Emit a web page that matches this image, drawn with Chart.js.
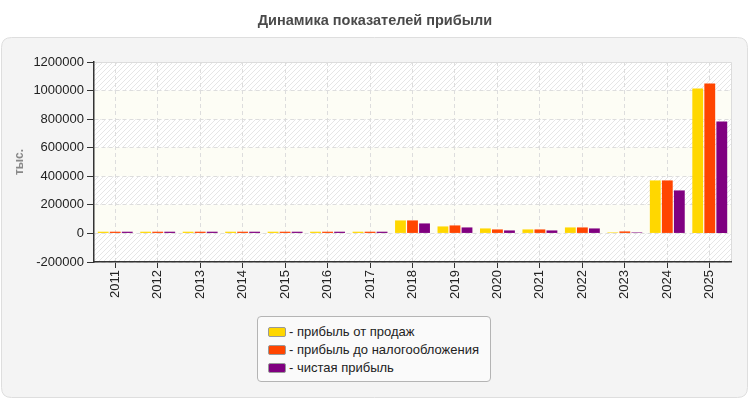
<!DOCTYPE html>
<html>
<head>
<meta charset="utf-8">
<script src="https://cdn.jsdelivr.net/npm/chart.js@4.4.0/dist/chart.umd.min.js"></script>
<style>
  html, body { margin: 0; padding: 0; background: #ffffff; }
  #wrap { position: relative; width: 750px; height: 400px; }
  canvas { position: absolute; left: 0; top: 0; }
  #legend {
    position: absolute; left: 257px; top: 316px; width: 232px; height: 64px;
    background: #fafafa; border: 1px solid #b4b4b4; border-radius: 4px;
    font-family: "Liberation Sans", Arial, sans-serif; font-size: 13px; color: #222;
    box-sizing: content-box;
  }
  #legend .item { position: absolute; left: 10px; height: 18px; line-height: 18px; white-space: nowrap; }
  #legend .sw { display: inline-block; width: 16px; height: 8px; border: 1px solid #999; border-radius: 2px; vertical-align: middle; margin-right: 3px; position: relative; top: -1px; }
</style>
</head>
<body>
<div id="wrap">
  <canvas id="c" width="750" height="400"></canvas>
  <div id="legend"></div>
</div>
<script>
const categories = ["2011","2012","2013","2014","2015","2016","2017","2018","2019","2020","2021","2022","2023","2024","2025"];
const salesProfit = [12000, 12000, 12000, 12000, 12000, 12000, 12000, 91000, 49000, 35000, 28000, 42000, 7000, 371000, 1015000];
const preTaxProfit = [12000, 12000, 12000, 12000, 12000, 12000, 12000, 91000, 56000, 28000, 28000, 42000, 14000, 371000, 1050000];
const netProfit = [12000, 12000, 12000, 12000, 12000, 12000, 12000, 70000, 42000, 21000, 21000, 35000, 7000, 301000, 784000];
const seriesLabels = ["- прибыль от продаж", "- прибыль до налогообложения", "- чистая прибыль"];
const seriesColors = ["#FFD700", "#FF4500", "#800080"];
const chartTitle = "Динамика показателей прибыли";
const yAxisTitle = "тыс.";
const yMin = -200000, yMax = 1200000, yStep = 200000;

const FONT = '"Liberation Sans", Arial, sans-serif';

function makeHatch(ctx) {
  const p = document.createElement('canvas');
  p.width = 5; p.height = 5;
  const g = p.getContext('2d');
  g.fillStyle = '#ffffff';
  g.fillRect(0, 0, 5, 5);
  g.strokeStyle = '#e6e6e6';
  g.lineWidth = 1;
  g.beginPath();
  g.moveTo(0, 5); g.lineTo(5, 0);
  g.moveTo(-2.5, 2.5); g.lineTo(2.5, -2.5);
  g.moveTo(2.5, 7.5); g.lineTo(7.5, 2.5);
  g.stroke();
  return ctx.createPattern(p, 'repeat');
}

function roundRect(ctx, x, y, w, h, r) {
  ctx.beginPath();
  ctx.moveTo(x + r, y);
  ctx.lineTo(x + w - r, y);
  ctx.quadraticCurveTo(x + w, y, x + w, y + r);
  ctx.lineTo(x + w, y + h - r);
  ctx.quadraticCurveTo(x + w, y + h, x + w - r, y + h);
  ctx.lineTo(x + r, y + h);
  ctx.quadraticCurveTo(x, y + h, x, y + h - r);
  ctx.lineTo(x, y + r);
  ctx.quadraticCurveTo(x, y, x + r, y);
  ctx.closePath();
}

const bgPlugin = {
  id: 'bg',
  beforeDraw(chart) {
    const ctx = chart.ctx;
    const a = chart.chartArea;
    const ys = chart.scales.y;
    ctx.save();
    roundRect(ctx, 1.5, 37.5, 746, 360, 10);
    ctx.fillStyle = '#f4f4f4';
    ctx.fill();
    ctx.strokeStyle = '#dedede';
    ctx.lineWidth = 1;
    ctx.stroke();
    ctx.fillStyle = makeHatch(ctx);
    ctx.fillRect(a.left, a.top, a.right - a.left, a.bottom - a.top);
    ctx.fillStyle = '#fdfdf5';
    for (let v = yMax - yStep; v > yMin; v -= 2 * yStep) {
      const y1 = ys.getPixelForValue(v);
      const y2 = ys.getPixelForValue(v - yStep);
      ctx.fillRect(a.left, y1, a.right - a.left, y2 - y1);
    }
    ctx.strokeStyle = '#dcdcdc';
    ctx.beginPath();
    ctx.moveTo(a.left, a.top + 0.5);
    ctx.lineTo(a.right + 0.5, a.top + 0.5);
    ctx.lineTo(a.right + 0.5, a.bottom);
    ctx.stroke();
    ctx.restore();
  }
};

const chart = new Chart(document.getElementById('c'), {
  type: 'bar',
  data: {
    labels: categories,
    datasets: [
      { label: seriesLabels[0], data: salesProfit, backgroundColor: seriesColors[0] },
      { label: seriesLabels[1], data: preTaxProfit, backgroundColor: seriesColors[1] },
      { label: seriesLabels[2], data: netProfit, backgroundColor: seriesColors[2] }
    ]
  },
  options: {
    responsive: false,
    animation: false,
    devicePixelRatio: 1,
    layout: { padding: 0 },
    datasets: { bar: { categoryPercentage: 0.85, barPercentage: 0.9, borderWidth: 0 } },
    plugins: {
      legend: { display: false },
      tooltip: { enabled: false },
      title: {
        display: true,
        text: chartTitle,
        color: '#4a4a4a',
        font: { family: FONT, size: 14.5, weight: 'bold' },
        padding: { top: 12, bottom: 32.6 }
      }
    },
    scales: {
      x: {
        grid: { color: '#dddddd', lineWidth: 1, drawTicks: true, tickLength: 6, tickColor: '#333333', offset: false },
        border: { color: '#333333', width: 1.5, dash: [4, 3] },
        ticks: { color: '#222222', font: { family: FONT, size: 13 }, maxRotation: 90, minRotation: 90, padding: 2, autoSkip: false },
        afterFit(scale) { scale.height = 138; }
      },
      y: {
        min: yMin, max: yMax,
        grid: { color: '#dddddd', lineWidth: 1, drawTicks: true, tickLength: 7, tickColor: '#333333' },
        border: { color: '#333333', width: 1.5, dash: [4, 3] },
        ticks: { stepSize: yStep, color: '#222222', font: { family: FONT, size: 13 }, padding: 3,
                 callback: (v) => String(v) },
        title: { display: true, text: yAxisTitle, color: '#888888', font: { family: FONT, size: 12, weight: 'bold' }, padding: { top: 12, bottom: 0 } },
        afterFit(scale) { scale.width = 94; }
      },
      spacer: {
        type: 'linear',
        position: 'right',
        display: true,
        grid: { display: false, drawOnChartArea: false },
        border: { display: false },
        ticks: { display: false },
        afterFit(scale) { scale.width = 19; }
      }
    }
  },
  plugins: [bgPlugin]
});

const lg = document.getElementById('legend');
chart.data.datasets.forEach((ds, i) => {
  const d = document.createElement('div');
  d.className = 'item';
  d.style.top = (6 + i * 18) + 'px';
  const sw = document.createElement('span');
  sw.className = 'sw';
  sw.style.background = ds.backgroundColor;
  d.appendChild(sw);
  d.appendChild(document.createTextNode(ds.label));
  lg.appendChild(d);
});
</script>
</body>
</html>
